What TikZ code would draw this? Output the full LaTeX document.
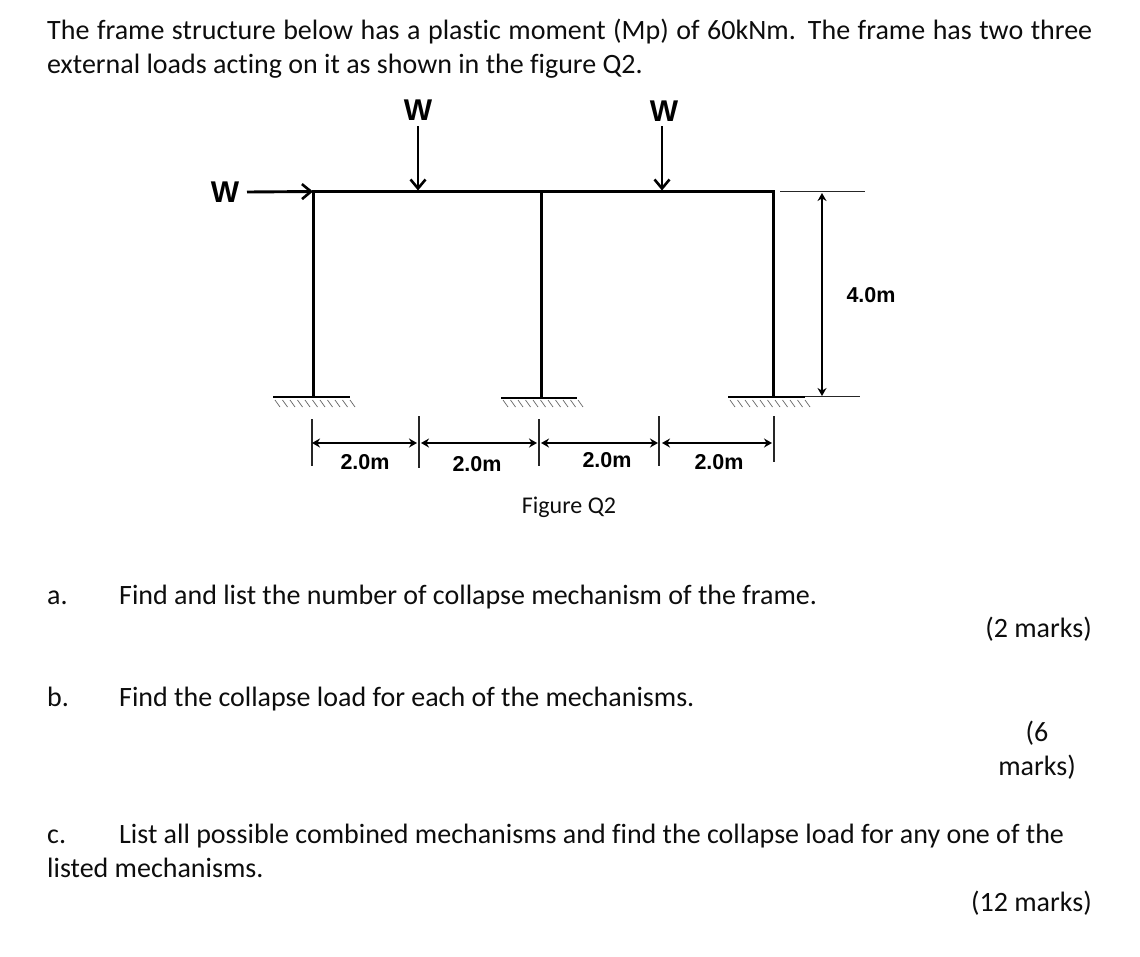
\documentclass[tikz,border=0pt]{standalone}
\usepackage{fontspec}
\setmainfont[Ligatures=CommonOff]{Carlito}
\newfontfamily\figfont{Liberation Sans}
\usetikzlibrary{arrows.meta}
\tikzset{
  x=1pt,y=-1pt,
  txt/.style={anchor=base west,inner sep=0pt,font=\fontsize{28}{32}\selectfont,text=black!95},
  txtr/.style={txt,anchor=base east},
  txtc/.style={txt,anchor=base},
  member/.style={line width=3pt,line join=miter},
  ground/.style={line width=2.1pt},
  hatch/.style={line width=0.7pt,black!60},
  load/.style={line width=2.9pt,-{Straight Barb[length=9pt,width=15pt,line width=2.6pt]}},
  dimline/.style={line width=1.9pt,{Stealth[length=8pt,width=9pt]}-{Stealth[length=8pt,width=9pt]}},
  tick/.style={line width=1.1pt,black!85},
  ext/.style={line width=1.3pt,black!85},
  loadlabel/.style={inner sep=0pt,font=\figfont\bfseries\fontsize{30}{32}\selectfont},
  dimlabel/.style={inner sep=0pt,font=\figfont\bfseries\fontsize{21.5}{24}\selectfont},
}
\begin{document}
\begin{tikzpicture}
\useasboundingbox (0,0) rectangle (1140,956);
% body text
\node[txt] (l1) at (47,39.7) {\makebox[1045pt][s]{The frame structure below has a plastic moment (Mp) of 60kNm. The frame has two three}};
\node[txt] (l2) at (47,73.7) {external loads acting on it as shown in the figure Q2.};
\node[txtc] (cap) at (569,513) {\fontsize{24}{28}\selectfont Figure Q2};
\node[txt] (qa) at (47,604.7) {a.};
\node[txt] (qat) at (119,604.7) {Find and list the number of collapse mechanism of the frame.};
\node[txtr] (ma) at (1092,637.7) {(2 marks)};
\node[txt] (qb) at (47,706.7) {b.};
\node[txt] (qbt) at (119,706.7) {Find the collapse load for each of the mechanisms.};
\node[txtc] (mb1) at (1037,741.7) {(6};
\node[txtc] (mb2) at (1037,775.7) {marks)};
\node[txt] (qc) at (47,843.7) {c.};
\node[txt] (qct) at (119,843.7) {List all possible combined mechanisms and find the collapse load for any one of the};
\node[txt] (qc2) at (47,877.7) {listed mechanisms.};
\node[txtr] (mc) at (1092,911.7) {(12 marks)};
% frame
\coordinate (tl) at (313,191.5);
\coordinate (tm) at (541,191.5);
\coordinate (tr) at (773,191.5);
\coordinate (bl) at (313,397);
\coordinate (bm) at (541,398);
\coordinate (br) at (773,397);
\draw[member] (bl) -- (tl) -- (tr) -- (br);
\draw[member] (tm) -- (bm);
% supports
\coordinate (sl1) at (273,397); \coordinate (sl2) at (350,397);
\coordinate (sm1) at (501,398); \coordinate (sm2) at (577,398);
\coordinate (sr1) at (728,397); \coordinate (sr2) at (805,397);
\draw[ground] (sl1) -- (sl2);
\draw[ground] (sm1) -- (sm2);
\draw[ground] (sr1) -- (sr2);
\foreach \x in {275,503,730}
  \foreach \i in {0,...,10}
    \draw[hatch] ({\x+7.5*\i},400) -- ({\x+7.5*\i+5},407);
% loads
\node[loadlabel] (w1) at (418,110) {W};
\node[loadlabel] (w2) at (664,111) {W};
\node[loadlabel] (w3) at (225,192) {W};
\coordinate (p1) at (418,190.5);
\coordinate (p2) at (662,190.5);
\coordinate (q1) at (418,126);
\coordinate (q2) at (662,126);
\coordinate (q3) at (247,192);
\draw[load] (q1) -- (p1);
\draw[load] (q2) -- (p2);
\draw[load] (q3) -- (tl);
% height dimension
\coordinate (e1a) at (780,191.5); \coordinate (e1b) at (865,191.5);
\coordinate (e2b) at (860,396.5);
\coordinate (e2a) at (805,396.5);
\draw[ext] (e1a) -- (e1b);
\draw[ext] (e2a) -- (e2b);
\coordinate (h1) at (822,193); \coordinate (h2) at (822,396);
\draw[dimline] (h1) -- (h2);
\node[dimlabel] (hl) at (871,295) {4.0m};
% span dimensions
\coordinate (t1a) at (312,419); \coordinate (t1b) at (312,466);
\coordinate (t2a) at (419,416); \coordinate (t2b) at (419,468);
\coordinate (t3a) at (539,419); \coordinate (t3b) at (539,466);
\coordinate (t4a) at (659,416); \coordinate (t4b) at (659,466);
\coordinate (t5a) at (774,416); \coordinate (t5b) at (774,462);
\draw[tick] (t1a) -- (t1b);
\draw[tick] (t2a) -- (t2b);
\draw[tick] (t3a) -- (t3b);
\draw[tick] (t4a) -- (t4b);
\draw[tick] (t5a) -- (t5b);
\coordinate (d1a) at (312,443); \coordinate (d1b) at (417,443);
\coordinate (d2a) at (421,443); \coordinate (d2b) at (537,443);
\coordinate (d3a) at (541,443); \coordinate (d3b) at (658,443);
\coordinate (d4a) at (662,443); \coordinate (d4b) at (772,443);
\draw[dimline] (d1a) -- (d1b);
\draw[dimline] (d2a) -- (d2b);
\draw[dimline] (d3a) -- (d3b);
\draw[dimline] (d4a) -- (d4b);
\node[dimlabel] (s1) at (365,462) {2.0m};
\node[dimlabel] (s2) at (477,464) {2.0m};
\node[dimlabel] (s3) at (607,460) {2.0m};
\node[dimlabel] (s4) at (719,462) {2.0m};
\end{tikzpicture}
\end{document}
